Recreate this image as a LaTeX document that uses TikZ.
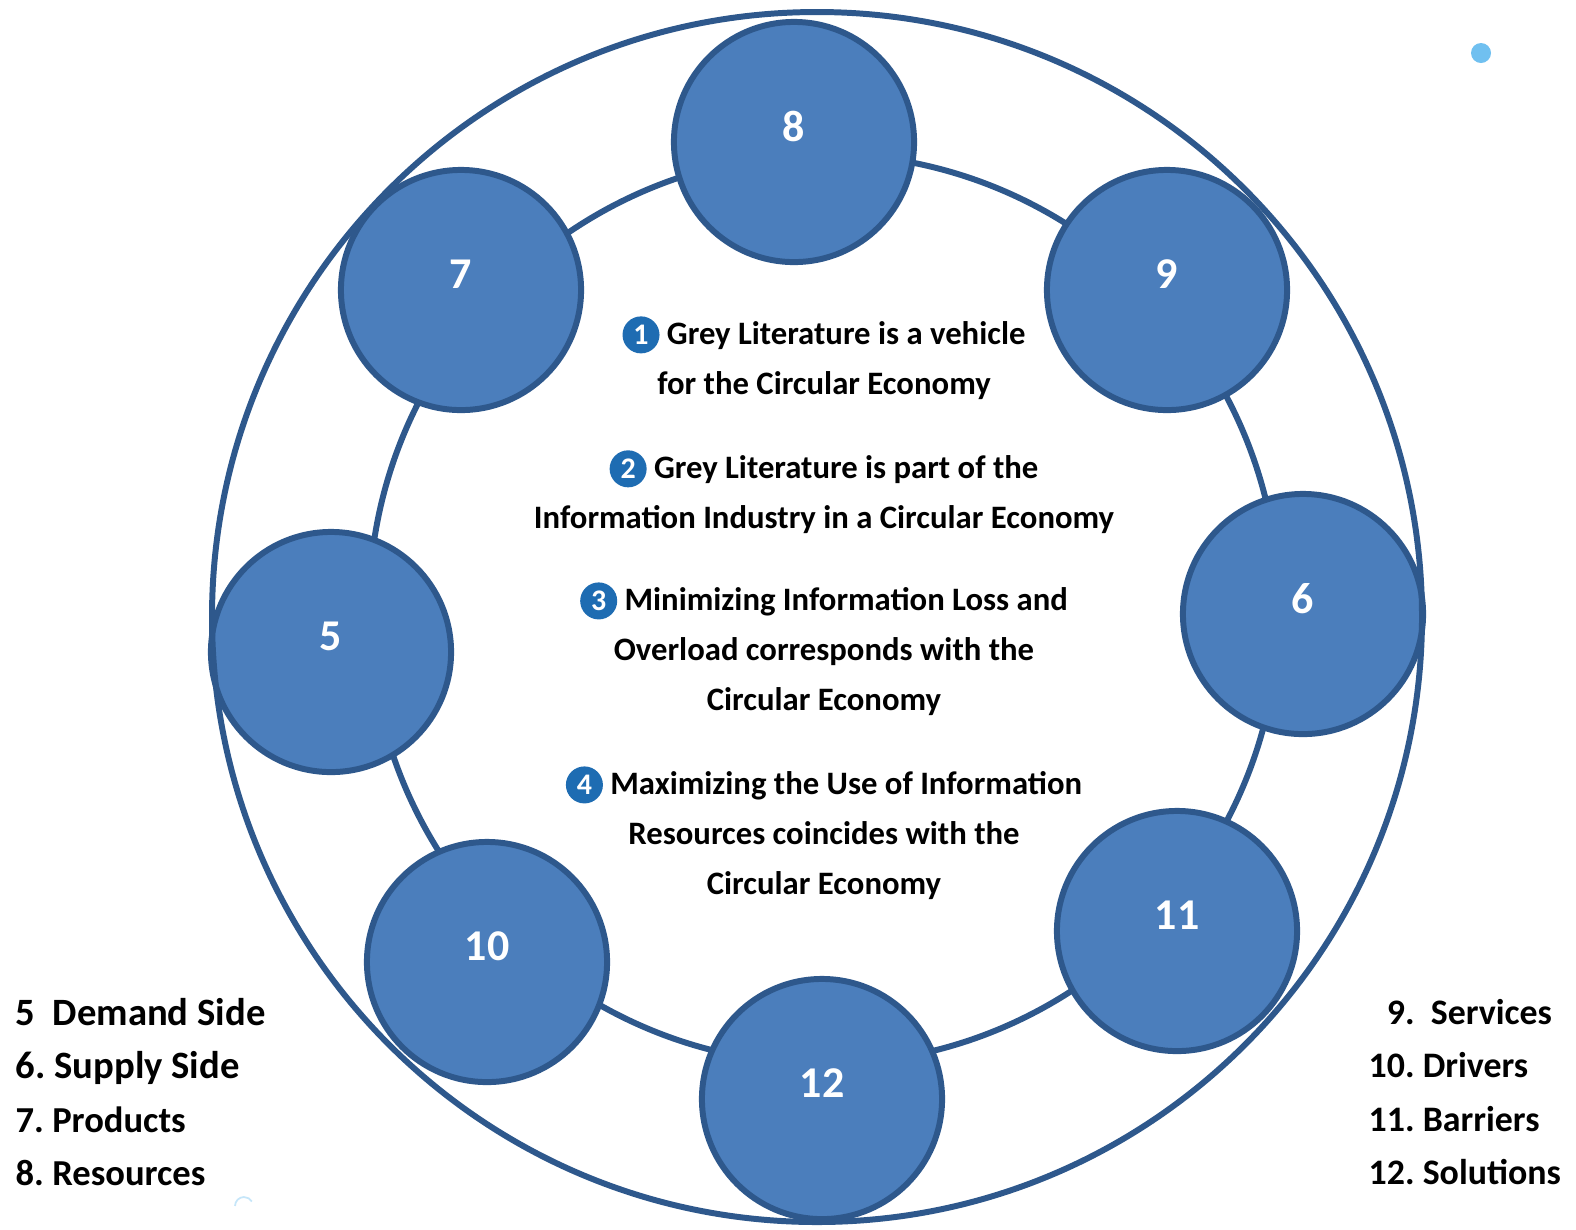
\documentclass[tikz,border=0pt]{standalone}
\usepackage{fontspec}
\setmainfont{Carlito}
\frenchspacing

\definecolor{ringblue}{RGB}{46,88,140}
\definecolor{ballblue}{RGB}{75,126,188}
\definecolor{dotblue}{RGB}{30,108,178}
\definecolor{skyblue}{RGB}{112,192,240}

\tikzset{
  ring/.style={draw=ringblue, line width=1.7pt},
  ball/.style={circle, draw=ringblue, line width=1.7pt, fill=ballblue,
    minimum size=2.4cm, inner sep=0pt, text=white,
    font=\fontsize{12.5}{12.5}\selectfont\bfseries},
  claim/.style={align=center, inner sep=0pt,
    font=\fontsize{9.3}{14.2}\selectfont\bfseries},
  key/.style={align=left, inner sep=0pt, anchor=west},
}

% small numbered disc in front of each claim
\newcommand\numdot[1]{\tikz[baseline=(n.base)]\node[circle, fill=dotblue,
  text=white, inner sep=0pt, minimum size=0.37cm,
  font=\fontsize{8.5}{8.5}\selectfont\bfseries] (n) {#1};}

\begin{document}
\begin{tikzpicture}[x=0.01cm, y=-0.01cm]
\useasboundingbox (0,0) rectangle (1576,1229);

% rings and the eight discs
\draw[ring] (824,609) circle [radius=455];
\foreach \n/\x/\y in {5/331/652, 6/1303/614, 7/461/290, 8/794/142,
                      9/1167/290, 10/487/962, 11/1177/931, 12/822/1099}
  \node[ball] (b\n) at (\x,\y) {\raisebox{0.32cm}{\n}};
\draw[ring] (817,617) circle [radius=605];

% the four claims
\node[claim] (c1) at (824,358) {\numdot{1} Grey Literature is a vehicle\\
  for the Circular Economy};
\node[claim] (c2) at (824,492) {\numdot{2} Grey Literature is part of the\\
  Information Industry in a Circular Economy};
\node[claim] (c3) at (824,649) {\numdot{3} Minimizing Information Loss and\\
  Overload corresponds with the\\ Circular Economy};
\node[claim] (c4) at (824,833) {\numdot{4} Maximizing the Use of Information\\
  Resources coincides with the\\ Circular Economy};

% keys
\node[key, font=\fontsize{11}{15.1}\selectfont\bfseries] (keyL) at (15,1092)
  {5\ \ Demand Side\\
   6. Supply Side\\
   \fontsize{10.4}{15.1}\selectfont 7. Products\\
   \fontsize{10.4}{15.1}\selectfont 8. Resources};
\node[key, font=\fontsize{10.2}{15.1}\selectfont\bfseries] (keyR) at (1368,1092)
  {\phantom{1}9.\ \ Services\\ 10. Drivers\\ 11. Barriers\\ 12. Solutions};

% stray marks
\fill[skyblue] (1481,53) circle [radius=10];
\draw[skyblue!40, line width=0.5pt] (235,1206) arc [start angle=180, end angle=330, radius=9];
\end{tikzpicture}
\end{document}
